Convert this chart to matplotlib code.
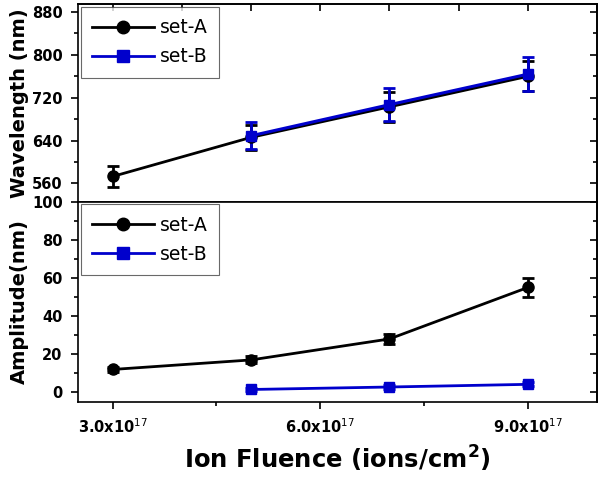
import matplotlib
matplotlib.use("Agg")
import matplotlib.pyplot as plt
from matplotlib.lines import Line2D
from matplotlib.ticker import MultipleLocator, FixedLocator, NullFormatter

# data
fluence_a = [3.0e17, 5.0e17, 7.0e17, 9.0e17]
fluence_b = [5.0e17, 7.0e17, 9.0e17]

wave_a = [573, 646, 703, 760]
wave_a_err = [20, 24, 28, 28]
wave_b = [649, 707, 764]
wave_b_err = [25, 31, 32]

amp_a = [12, 17, 28, 55]
amp_a_err = [1.2, 1.8, 2.5, 4.8]
amp_b = [1.5, 2.8, 4.2]
amp_b_err = [1.0, 1.0, 1.0]

xticks_major = [3.0e17, 6.0e17, 9.0e17]
xtick_labels = ["3.0x10$^{17}$", "6.0x10$^{17}$", "9.0x10$^{17}$"]

BLUE = "#0000cc"
plt.rcParams["font.family"] = "DejaVu Sans"

fig = plt.figure(figsize=(6, 4.79), dpi=100)
ax1 = fig.add_axes([0.13, 0.579, 0.865, 0.4126])
ax2 = fig.add_axes([0.13, 0.161, 0.865, 0.418])

err_kw = dict(elinewidth=2, capsize=4, capthick=2)

# upper panel: wavelength
ax1.errorbar(fluence_a, wave_a, yerr=wave_a_err, color="black", marker="o",
             ms=8, lw=2, **err_kw)
ax1.errorbar(fluence_b, wave_b, yerr=wave_b_err, color=BLUE, marker="s",
             ms=7, lw=2.2, **err_kw)
ax1.set_xlim(2.5e17, 10.0e17)
ax1.set_ylim(526, 895)
ax1.yaxis.set_major_locator(MultipleLocator(80))
ax1.yaxis.set_minor_locator(MultipleLocator(40))
ax1.xaxis.set_major_locator(MultipleLocator(1e17))
ax1.xaxis.set_minor_locator(MultipleLocator(1e17))
ax1.xaxis.set_major_formatter(NullFormatter())
ax1.set_ylabel("Wavelength (nm)", fontsize=14, fontweight="bold")

# lower panel: amplitude
ax2.errorbar(fluence_a, amp_a, yerr=amp_a_err, color="black", marker="o",
             ms=8, lw=2, **err_kw)
ax2.errorbar(fluence_b, amp_b, yerr=amp_b_err, color=BLUE, marker="s",
             ms=7, lw=2, **err_kw)
ax2.set_xlim(2.5e17, 10.0e17)
ax2.set_ylim(-5, 100)
ax2.yaxis.set_major_locator(MultipleLocator(20))
ax2.yaxis.set_minor_locator(MultipleLocator(10))
ax2.xaxis.set_major_locator(FixedLocator(xticks_major))
ax2.xaxis.set_minor_locator(MultipleLocator(1.5e17))
ax2.set_xticklabels(xtick_labels)
ax2.set_ylabel("Amplitude(nm)", fontsize=14, fontweight="bold")
ax2.set_xlabel("Ion Fluence (ions/cm$^\\mathbf{2}$)", fontsize=17.5,
               fontweight="bold", labelpad=6)

handles = [
    Line2D([], [], color="black", marker="o", ms=9, lw=2, label="set-A"),
    Line2D([], [], color=BLUE, marker="s", ms=8, lw=2, label="set-B"),
]

for ax in (ax1, ax2):
    ax.tick_params(which="major", length=5, width=1.2, labelsize=10.5,
                   direction="out", pad=6)
    ax.tick_params(which="minor", length=3, width=1.2, direction="out")
    for lab in ax.get_xticklabels() + ax.get_yticklabels():
        lab.set_fontweight("bold")
    for sp in ax.spines.values():
        sp.set_linewidth(1.2)
    ax.yaxis.set_label_coords(-0.095, 0.5)
    leg = ax.legend(handles=handles, loc="upper left", fontsize=13.5,
                    frameon=True, fancybox=False, edgecolor="#444444",
                    handlelength=3.3, borderpad=0.6, labelspacing=0.55,
                    borderaxespad=0.15, handletextpad=0.3)
    leg.get_frame().set_linewidth(0.8)
    # right side ticks pointing inward, no labels
    sec = ax.secondary_yaxis("right")
    sec.yaxis.set_major_locator(ax.yaxis.get_major_locator())
    sec.yaxis.set_minor_locator(ax.yaxis.get_minor_locator())
    sec.tick_params(which="major", direction="in", length=5, width=1.2,
                    labelright=False)
    sec.tick_params(which="minor", direction="in", length=3, width=1.2)
    sec.spines["right"].set_linewidth(1.2)

# top ticks of the upper panel pointing inward
top = ax1.secondary_xaxis("top")
top.xaxis.set_major_locator(MultipleLocator(1e17))
top.tick_params(direction="in", length=5, width=1.2, labeltop=False)
top.spines["top"].set_linewidth(1.2)

fig.savefig("out.png", dpi=100)
